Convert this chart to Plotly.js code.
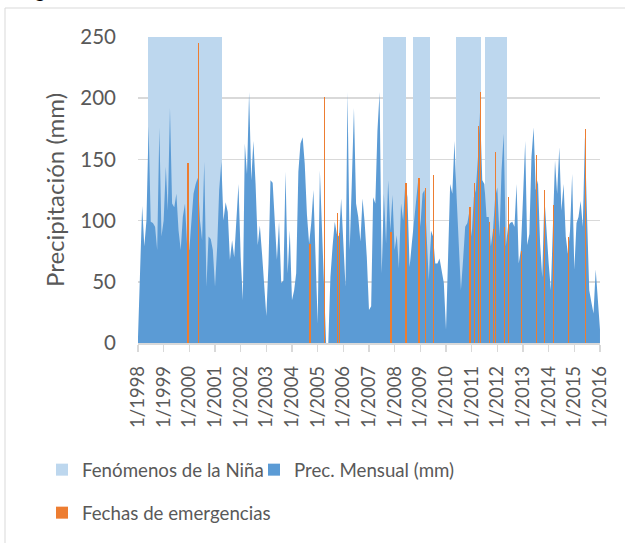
<!DOCTYPE html>
<html><head><meta charset="utf-8">
<script src="https://cdn.plot.ly/plotly-3.0.1.min.js"></script>
<style>html,body{margin:0;padding:0;background:#fff;} #chart{width:625px;height:543px;}</style>
</head><body><div id="chart"></div>
<script>
// ---- DATA ----
const startYear = 1998;
const endYear = 2016;
// Monthly precipitation (mm), Jan 1998 .. Jan 2016
const precip = [
  5, 55, 112, 79, 100, 177, 99, 98, 95, 76, 176, 87,        // 1998
  100, 144, 108, 192, 114, 111, 122, 92, 76, 103, 114, 79,  // 1999
  76, 100, 122, 130, 135, 100, 84, 148, 46, 87, 85, 76,     // 2000
  46, 79, 125, 148, 100, 115, 107, 68, 84, 70, 98, 130,     // 2001
  70, 35, 163, 138, 205, 133, 165, 130, 80, 96, 73, 49,     // 2002
  22, 65, 133, 131, 103, 68, 99, 49, 51, 140, 57, 92,       // 2003
  35, 43, 57, 140, 163, 168, 146, 105, 81, 98, 125, 65,     // 2004
  16, 141, 98, 43, 0, 0, 54, 79, 99, 89, 87, 118,           // 2005
  81, 46, 205, 76, 130, 192, 114, 103, 83, 118, 98, 70,     // 2006
  27, 30, 119, 114, 173, 205, 57, 122, 81, 133, 92, 121,    // 2007
  76, 88, 61, 114, 100, 131, 119, 62, 81, 98, 119, 133,     // 2008
  95, 122, 125, 92, 51, 92, 87, 65, 65, 69, 57, 49,         // 2009
  11, 79, 130, 122, 165, 119, 79, 43, 68, 95, 98, 108,      // 2010
  87, 119, 125, 152, 190, 133, 130, 103, 103, 79, 92, 119,  // 2011
  127, 87, 141, 171, 79, 95, 98, 99, 95, 130, 65, 76,       // 2012
  119, 165, 80, 89, 152, 176, 125, 133, 81, 54, 119, 87,    // 2013
  65, 43, 103, 149, 122, 160, 108, 130, 87, 73, 92, 138,    // 2014
  60, 98, 103, 116, 95, 168, 103, 43, 33, 24, 60, 33,       // 2015
  11                                                        // Jan 2016
];
// La Niña periods (first and last month)
const ninaStart = ["1998-06-01", "2007-08-01", "2008-10-01", "2010-06-01", "2011-08-01"];
const ninaEnd   = ["2001-04-01", "2008-06-01", "2009-05-01", "2011-05-01", "2012-05-01"];
const ninaLevel = 250;
// Emergency dates and their bar heights
const emergDates = [
  "1999-12-13", "2000-05-10", "2004-09-12", "2005-04-09", "2005-10-09", "2005-11-09",
  "2007-11-10", "2008-06-10", "2008-12-10", "2009-03-12", "2009-07-10",
  "2010-12-10", "2011-02-10", "2011-04-06", "2011-05-10", "2011-09-10", "2011-11-06",
  "2011-12-10", "2012-04-12", "2012-06-06", "2012-12-10", "2013-07-10", "2013-11-04",
  "2014-03-10", "2014-10-10", "2015-06-10"
];
const emergValues = [
  147, 245, 81, 201, 106, 90,
  91, 131, 135, 127, 137,
  111, 131, 177, 205, 99, 93,
  156, 95, 119, 75, 154, 125,
  113, 87, 175
];
const yTicks = [0, 50, 100, 150, 200, 250];

// ---- BUILD ----
function monthStr(i) {
  const y = startYear + Math.floor(i / 12);
  const m = (i % 12) + 1;
  return y + "-" + String(m).padStart(2, "0") + "-01";
}
const months = precip.map((_, i) => monthStr(i));
const ninaX = [], ninaY = [];
months.forEach(d => {
  for (let k = 0; k < ninaStart.length; k++) {
    if (d >= ninaStart[k] && d <= ninaEnd[k]) { ninaX.push(d); ninaY.push(ninaLevel); break; }
  }
});
const yearTicks = [], yearText = [];
for (let y = startYear; y <= endYear; y++) { yearTicks.push(y + "-01-01"); yearText.push("1/" + y); }

const DAY = 864e5;
const FONT = "Lato, 'Open Sans', sans-serif";
const GRAY = "#595959";

const traces = [
  { type: "bar", name: "Fenómenos de la Niña", x: ninaX, y: ninaY, width: 31 * DAY,
    marker: { color: "#BDD7EE", line: { width: 0 } }, legend: "legend", hoverinfo: "skip" },
  { type: "scatter", name: "Prec. Mensual (mm)", x: months, y: precip, mode: "lines",
    fill: "tozeroy", fillcolor: "#5B9BD5", line: { width: 0, color: "#5B9BD5" },
    showlegend: false, hoverinfo: "skip" },
  { type: "bar", name: "Prec. Mensual (mm)", x: [months[0]], y: [0], width: 1,
    marker: { color: "#5B9BD5", line: { width: 0 } }, legend: "legend2", hoverinfo: "skip" },
  { type: "bar", name: "Fechas de emergencias", x: emergDates, y: emergValues, width: 20 * DAY,
    xaxis: "x2", yaxis: "y2",
    marker: { color: "#ED7D31", line: { width: 0 } }, legend: "legend3", hoverinfo: "skip" }
];

const L = 138, R = 25, T = 37, B = 200, W = 625, H = 543;
const pw = W - L - R, ph = H - T - B;
const px = v => (v - L) / pw;
const py = v => (H - B - v) / ph;

const xr = ["1998-01-01", "2016-01-01 06:00"];
const legendBase = { orientation: "h", xanchor: "left", yanchor: "middle", bgcolor: "rgba(0,0,0,0)",
  font: { family: FONT, size: 18.7, color: GRAY }, itemwidth: 30 };

const layout = {
  width: W, height: H,
  margin: { l: L, r: R, t: T, b: B, autoexpand: false },
  paper_bgcolor: "#fff", plot_bgcolor: "#fff",
  barmode: "overlay", bargap: 0,
  font: { family: FONT, color: GRAY },
  xaxis: {
    type: "date", range: xr, tickmode: "array", tickvals: yearTicks, ticktext: yearText,
    tickangle: -90, ticks: "outside", ticklen: 7, tickwidth: 1.5, tickcolor: "#d9d9d9",
    showline: true, linecolor: "#d9d9d9", linewidth: 1.5, showgrid: false, zeroline: false,
    ticklabelstandoff: 7,
    tickfont: { family: FONT, size: 18.5, color: GRAY }
  },
  yaxis: {
    range: [0, 250], tickmode: "array", tickvals: yTicks, showgrid: true, gridcolor: "#d9d9d9",
    gridwidth: 1.5, showline: false, zeroline: false, ticks: "", ticklabelstandoff: 21,
    tickfont: { family: FONT, size: 20.5, color: GRAY },
    title: { text: "Precipitación (mm)", font: { family: FONT, size: 24, color: GRAY }, standoff: 8 }
  },
  xaxis2: { type: "date", range: xr, overlaying: "x", anchor: "y2", visible: false },
  yaxis2: { range: [0, 250], overlaying: "y", anchor: "x2", visible: false },
  legend: Object.assign({}, legendBase, { x: px(42), y: py(470) }),
  legend2: Object.assign({}, legendBase, { x: px(254), y: py(470) }),
  legend3: Object.assign({}, legendBase, { x: px(42), y: py(513) }),
  shapes: [
    { type: "rect", xref: "paper", yref: "paper", x0: px(5), x1: 1.3, y0: -1.2, y1: py(8),
      line: { color: "#d9d9d9", width: 1 }, fillcolor: "rgba(0,0,0,0)", layer: "below" }
  ],
  annotations: [
    { text: "<b>g</b>", xref: "paper", yref: "paper", x: px(40), y: py(3), xanchor: "center",
      yanchor: "bottom", showarrow: false, font: { family: "Liberation Sans, sans-serif", size: 20, color: "#000" } }
  ]
};

Plotly.newPlot("chart", traces, layout, { displayModeBar: false, staticPlot: true });
</script>
</body></html>
